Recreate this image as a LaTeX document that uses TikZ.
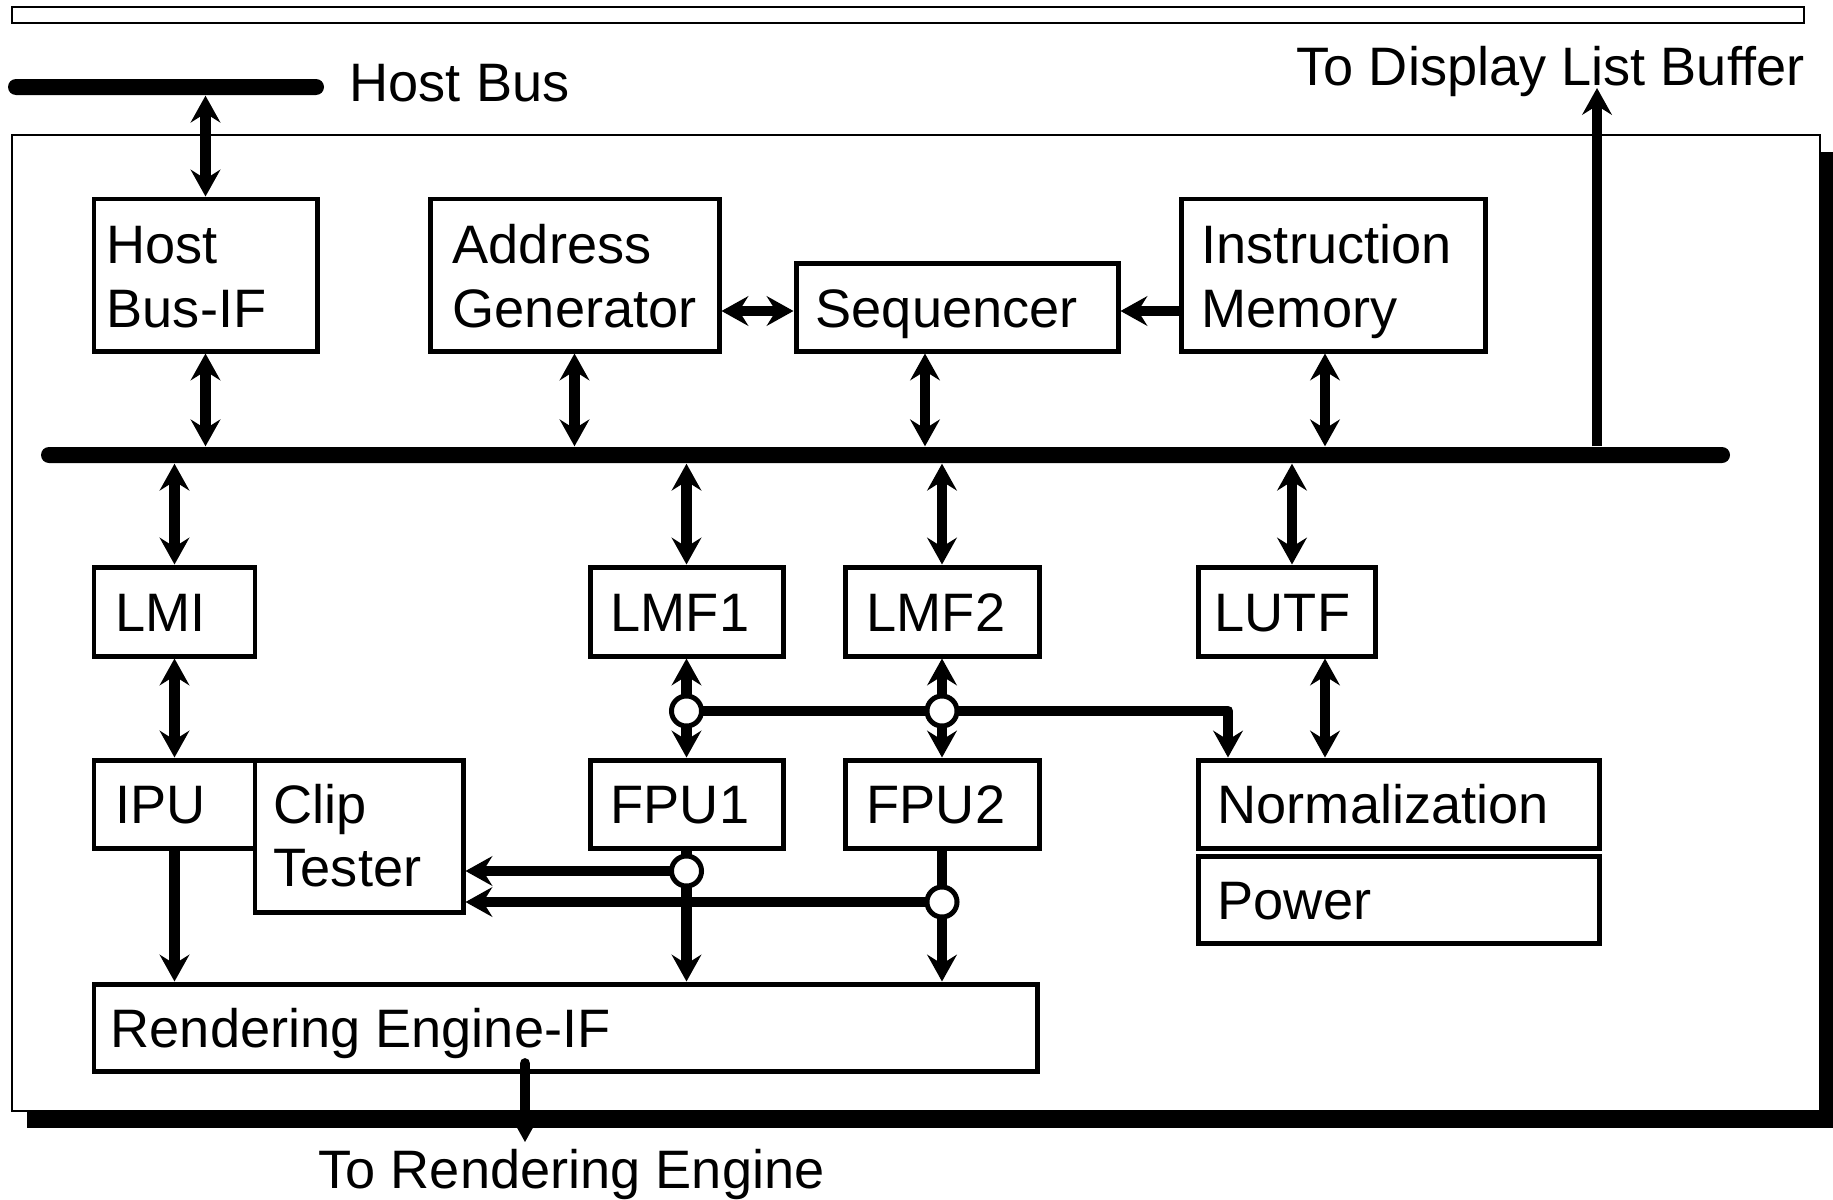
\documentclass[tikz,border=0pt]{standalone}
\usepackage{fontspec}
\setmainfont{Liberation Sans}
\usetikzlibrary{arrows.meta,fit}
\pgfdeclarelayer{back}
\pgfdeclarelayer{wires}
\pgfsetlayers{back,wires,main}
\begin{document}
\begin{tikzpicture}[x=0.01cm, y=-0.01cm,
  blk/.style={draw, line width=1.42pt, inner sep=0pt},
  bar/.style={fill, inner sep=0pt, rounded corners=0.08cm},
  lbl/.style={anchor=base west, inner sep=0pt, font=\fontsize{15.4pt}{18pt}\selectfont},
  wire/.style={line width=3.1pt},
  arr/.style={wire, -{Stealth[length=7.6pt, width=8.4pt, inset=2.6pt]}},
  biarr/.style={wire, {Stealth[length=7.6pt, width=8.4pt, inset=2.6pt]}-{Stealth[length=7.6pt, width=8.4pt, inset=2.6pt]}},
  junc/.style={circle, draw, fill=white, line width=1.42pt, minimum size=0.3cm, inner sep=0pt},
]
\useasboundingbox (0,0) rectangle (1833,1200);

% frame with drop shadow and the strip above it
\begin{pgfonlayer}{back}
  \fill (27,152) rectangle (1833,1128);
  \draw[fill=white, line width=0.57pt] (12,135) rectangle (1820,1111);
  \draw[line width=0.57pt] (12,7) rectangle (1804,23);
\end{pgfonlayer}

% buses
\node[bar, fit={(8,79) (324,95)}] (hostbus) {};
\node[bar, fit={(41,447) (1730,463)}] (bus) {};

% blocks
\node[blk, fit={(94,199) (317,351)}] (hbif) {};
\node[blk, fit={(430,199) (719,351)}] (ag) {};
\node[blk, fit={(796,263) (1118,351)}] (seq) {};
\node[blk, fit={(1181,199) (1485,351)}] (imem) {};
\node[blk, fit={(94,567) (255,656)}] (lmi) {};
\node[blk, fit={(590,567) (783,656)}] (lmf1) {};
\node[blk, fit={(845,567) (1039,656)}] (lmf2) {};
\node[blk, fit={(1198,567) (1375,656)}] (lutf) {};
\node[blk, fit={(94,760) (255,848)}] (ipu) {};
\node[blk, fit={(255,760) (463,912)}] (clip) {};
\node[blk, fit={(590,760) (783,848)}] (fpu1) {};
\node[blk, fit={(845,760) (1039,848)}] (fpu2) {};
\node[blk, fit={(1198,760) (1599,848)}] (norm) {};
\node[blk, fit={(1198,856) (1599,943)}] (power) {};
\node[blk, fit={(94,984) (1037,1071)}] (reif) {};

% block labels
\node[lbl] (l-hb1) at (106,263) {Host};
\node[lbl] (l-hb2) at (106,327) {Bus-IF};
\node[lbl] (l-ag1) at (452,263) {Address};
\node[lbl] (l-ag2) at (452,327) {Generator};
\node[lbl] (l-seq) at (815,327) {Sequencer};
\node[lbl] (l-im1) at (1201,263) {Instruction};
\node[lbl] (l-im2) at (1201,327) {Memory};
\node[lbl] (l-lmi) at (115,631) {LMI};
\node[lbl] (l-lmf1) at (610,631) {LMF1};
\node[lbl] (l-lmf2) at (866,631) {LMF2};
\node[lbl] (l-lutf) at (1214,631) {LUTF};
\node[lbl] (l-ipu) at (115,823) {IPU};
\node[lbl] (l-clip1) at (273,823) {Clip};
\node[lbl] (l-clip2) at (273,886) {Tester};
\node[lbl] (l-fpu1) at (610,823) {FPU1};
\node[lbl] (l-fpu2) at (866,823) {FPU2};
\node[lbl] (l-norm) at (1217,823) {Normalization};
\node[lbl] (l-pow) at (1217,919) {Power};
\node[lbl] (l-reif) at (110,1047) {Rendering Engine-IF};

% outside labels
\node[lbl] (l-host) at (349,101) {Host Bus};
\node[lbl] (l-dlb) at (1296,85) {To Display List Buffer};
\node[lbl] (l-ren) at (318,1188) {To Rendering Engine};

% helper positions
\coordinate (xseq) at (925,0);
\coordinate (xim) at (1325,0);
\coordinate (xlu) at (1292,0);
\coordinate (xln) at (1325,0);
\coordinate (xno) at (1228,0);
\coordinate (yrow) at (0,311);
\coordinate (yj1) at (0,711);
\coordinate (yj3) at (0,871);
\coordinate (yj4) at (0,902);
\coordinate (dlb) at (1597,88);
\coordinate (ren) at (525,1142);

% junctions
\node[junc] (j1) at (lmf1.south |- yj1) {};
\node[junc] (j2) at (lmf2.south |- yj1) {};
\node[junc] (j3) at (fpu1.south |- yj3) {};
\node[junc] (j4) at (fpu2.south |- yj4) {};

\begin{pgfonlayer}{wires}
  % host side
  \draw[biarr] (hostbus.south -| hbif.north) -- (hbif.north);
  \draw[biarr] (hbif.south) -- (hbif.south |- bus.north);
  \draw[biarr] (ag.south) -- (ag.south |- bus.north);
  \draw[biarr] (seq.south -| xseq) -- (bus.north -| xseq);
  \draw[biarr] (imem.south -| xim) -- (bus.north -| xim);
  \draw[arr] (bus.north -| dlb) -- (dlb);
  \draw[biarr] (ag.east |- yrow) -- (seq.west |- yrow);
  \draw[arr] (imem.west |- yrow) -- (seq.east |- yrow);

  % bus to local memories
  \draw[biarr] (bus.south -| lmi.north) -- (lmi.north);
  \draw[biarr] (bus.south -| lmf1.north) -- (lmf1.north);
  \draw[biarr] (bus.south -| lmf2.north) -- (lmf2.north);
  \draw[biarr] (bus.south -| xlu) -- (lutf.north -| xlu);

  % memories to processing units
  \draw[biarr] (lmi.south) -- (ipu.north);
  \draw[biarr] (lmf1.south) -- (fpu1.north);
  \draw[biarr] (lmf2.south) -- (fpu2.north);
  \draw[biarr] (lutf.south -| xln) -- (norm.north -| xln);
  \draw[arr, line join=round] (j1.center) -| (norm.north -| xno);

  % results to clip tester and rendering interface
  \draw[arr] (ipu.south) -- (ipu.south |- reif.north);
  \draw[arr] (fpu1.south) -- (fpu1.south |- reif.north);
  \draw[arr] (fpu2.south) -- (fpu2.south |- reif.north);
  \draw[arr] (j3.center) -- (j3.center -| clip.east);
  \draw[arr] (j4.center) -- (j4.center -| clip.east);
  \draw[arr, line cap=round] (reif.south -| ren) ++(0,-10) -- (ren);
\end{pgfonlayer}
\end{tikzpicture}
\end{document}
